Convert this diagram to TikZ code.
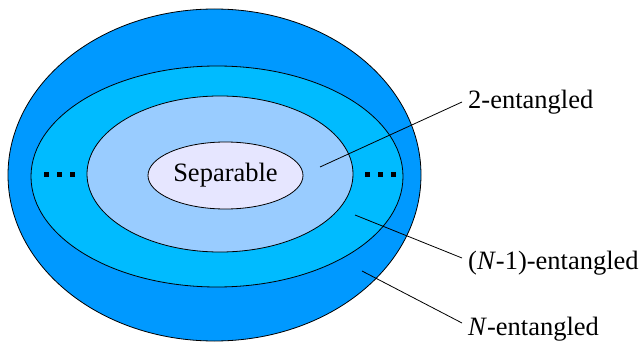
\documentclass[tikz,border=0pt]{standalone}
\usepackage{fontspec}
\setmainfont{Liberation Serif}
\usetikzlibrary{shapes.geometric}
\definecolor{outerblue}{HTML}{0099FF}
\definecolor{midblue}{HTML}{00BBFF}
\definecolor{paleblue}{HTML}{99CCFF}
\definecolor{lavender}{HTML}{E6E6FF}
\begin{document}
\begin{tikzpicture}[x=1pt,y=-1pt,
every node/.style={font=\fontsize{26.5}{30}\selectfont},
region/.style={ellipse, draw=black, line width=0.8pt, inner sep=0pt},
classtext/.style={anchor=west, inner sep=6pt}
]
\useasboundingbox (0,0) rectangle (642,342);
% nested classes
\node[region, fill=outerblue, minimum width=413pt, minimum height=332pt] (nent) at (214.5,175) {};
\node[region, fill=midblue, minimum width=372pt, minimum height=221pt] (nment) at (217,176.5) {};
\node[region, fill=paleblue, minimum width=266pt, minimum height=156pt] (twoent) at (220,174) {};
\node[region, fill=lavender, minimum width=155pt, minimum height=67pt] (sep) at (225.5,175.5) {Separable};
\foreach \x in {46,59,72,367,380,393}
  \fill (\x-2.5,171.5) rectangle +(5,5);
% labels
\node[classtext] (l2) at (462,102) {2-entangled};
\node[classtext] (lNm) at (462,263) {(\textit{N}-1)-entangled};
\node[classtext] (lN) at (462,329) {\textit{N}-entangled};
\coordinate (c2) at (320,167);
\coordinate (cNm) at (355,215);
\coordinate (cN) at (362,271);
\draw[line width=0.8pt] (c2) -- (l2.west);
\draw[line width=0.8pt] (cNm) -- ([yshift=5pt]lNm.west);
\draw[line width=0.8pt] (cN) -- ([yshift=6pt]lN.west);
\end{tikzpicture}
\end{document}
